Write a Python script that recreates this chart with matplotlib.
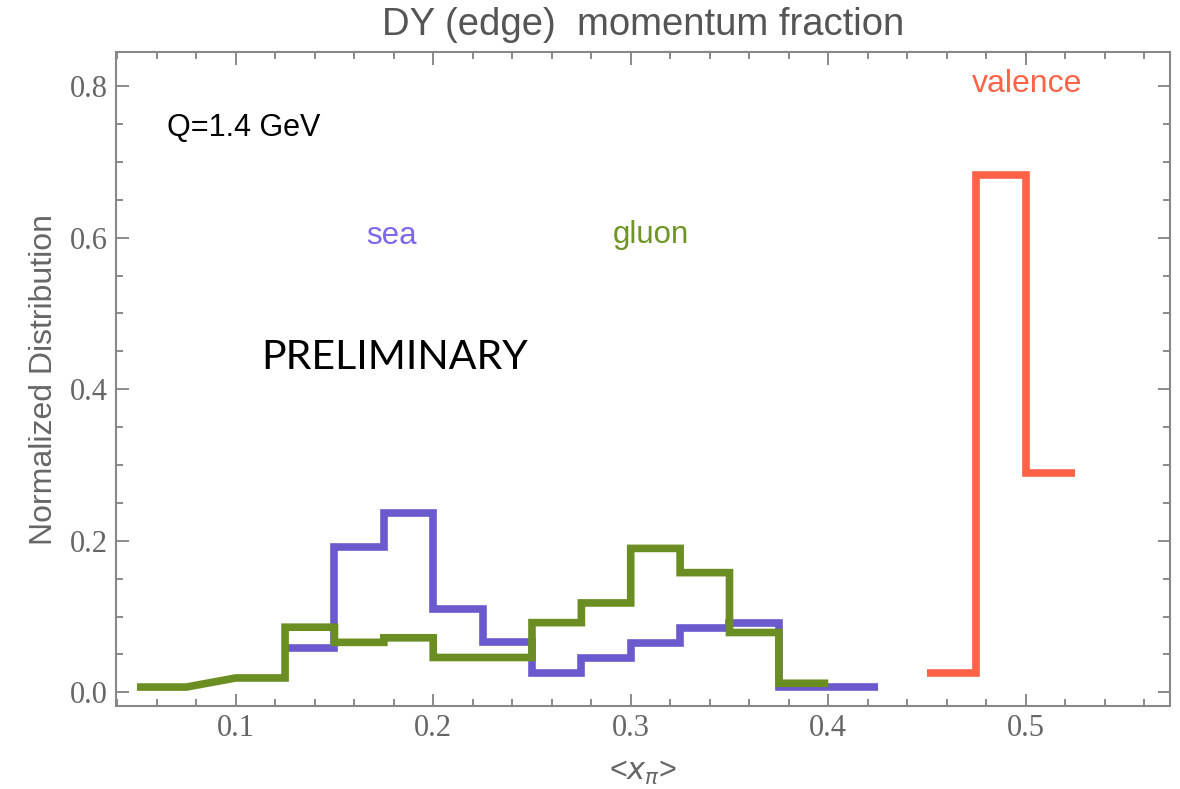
import numpy as np
import matplotlib
matplotlib.use('Agg')
import matplotlib.pyplot as plt
from matplotlib.ticker import MultipleLocator

# --- DATA (bin width 0.025, NaN = no step drawn, just joined) ---
sea_edges = [0.125, 0.15, 0.175, 0.2, 0.225, 0.25, 0.275, 0.3, 0.325, 0.35, 0.375, 0.4, 0.425]
sea_vals = [0.058, 0.192, 0.237, 0.110, 0.066, 0.026, 0.045, 0.065, 0.085, 0.092, 0.007, 0.007]

gluon_edges = [0.05, 0.075, 0.1, 0.125, 0.15, 0.175, 0.2, 0.225, 0.25, 0.275, 0.3, 0.325, 0.35, 0.375, 0.4]
gluon_vals = [0.007, np.nan, 0.019, 0.086, 0.066, 0.072, 0.046, 0.046, 0.092, 0.118, 0.190, 0.158, 0.079, 0.012]

valence_edges = [0.45, 0.475, 0.5, 0.525]
valence_vals = [0.025, 0.683, 0.290]

SEA_C = '#6a5acd'
GLUON_C = '#6b8e23'
VAL_C = '#ff6347'
GRAY = '#666666'


def step_path(edges, vals):
    xs, ys = [], []
    for i, v in enumerate(vals):
        if np.isnan(v):
            continue
        xs += [edges[i], edges[i + 1]]
        ys += [v, v]
    return xs, ys


fig = plt.figure(figsize=(11.8, 7.89), dpi=100)
ax = fig.add_axes([0.0983, 0.1052, 0.8932, 0.8288])

for edges, vals, c in [(sea_edges, sea_vals, SEA_C),
                       (gluon_edges, gluon_vals, GLUON_C),
                       (valence_edges, valence_vals, VAL_C)]:
    xs, ys = step_path(edges, vals)
    ax.plot(xs, ys, color=c, linewidth=5.5, solid_joinstyle='miter',
            solid_capstyle='butt')

ax.set_xlim(0.0394, 0.573)
ax.set_ylim(-0.018, 0.845)

# frame + ticks, Mathematica style
for s in ax.spines.values():
    s.set_color('#888888')
    s.set_linewidth(1.5)
ax.xaxis.set_major_locator(MultipleLocator(0.1))
ax.xaxis.set_minor_locator(MultipleLocator(0.02))
ax.yaxis.set_major_locator(MultipleLocator(0.2))
ax.yaxis.set_minor_locator(MultipleLocator(0.05))
ax.tick_params(which='both', direction='in', top=True, right=True,
               color='#777777', width=1.2)
ax.tick_params(which='major', length=9, labelsize=22, labelcolor=GRAY, pad=6)
ax.tick_params(which='minor', length=5)
ax.set_xticklabels([f'{t:.1f}' for t in ax.get_xticks()])
ax.set_yticklabels([f'{t:.1f}' for t in ax.get_yticks()])
for lab in ax.get_xticklabels() + ax.get_yticklabels():
    lab.set_family('Liberation Serif')

ax.set_title('DY (edge)  momentum fraction', fontsize=27.5, color='#555555',
             family='Liberation Sans', pad=12)
ax.set_ylabel('Normalized Distribution', fontsize=23, color=GRAY,
              family='Liberation Sans', labelpad=8)
ax.set_xlabel(r'<$x_\pi$>', fontsize=22, color=GRAY, family='Liberation Sans',
              labelpad=10)

# labels inside the plot
ax.text(0.5005, 0.803, 'valence', color=VAL_C, fontsize=23,
        family='Liberation Sans', ha='center', va='center')
ax.text(0.179, 0.602, 'sea', color='#7b68ee', fontsize=22.5,
        family='Liberation Sans', ha='center', va='center')
ax.text(0.310, 0.604, 'gluon', color='#6f9428', fontsize=22.5,
        family='Liberation Sans', ha='center', va='center')
ax.text(0.065, 0.745, 'Q=1.4 GeV', color='black', fontsize=22,
        family='Liberation Sans', ha='left', va='center')
ax.text(0.113, 0.442, 'PRELIMINARY', color='black', fontsize=29.5,
        family='Lato', ha='left', va='center')

fig.savefig('out.png', dpi=100)
